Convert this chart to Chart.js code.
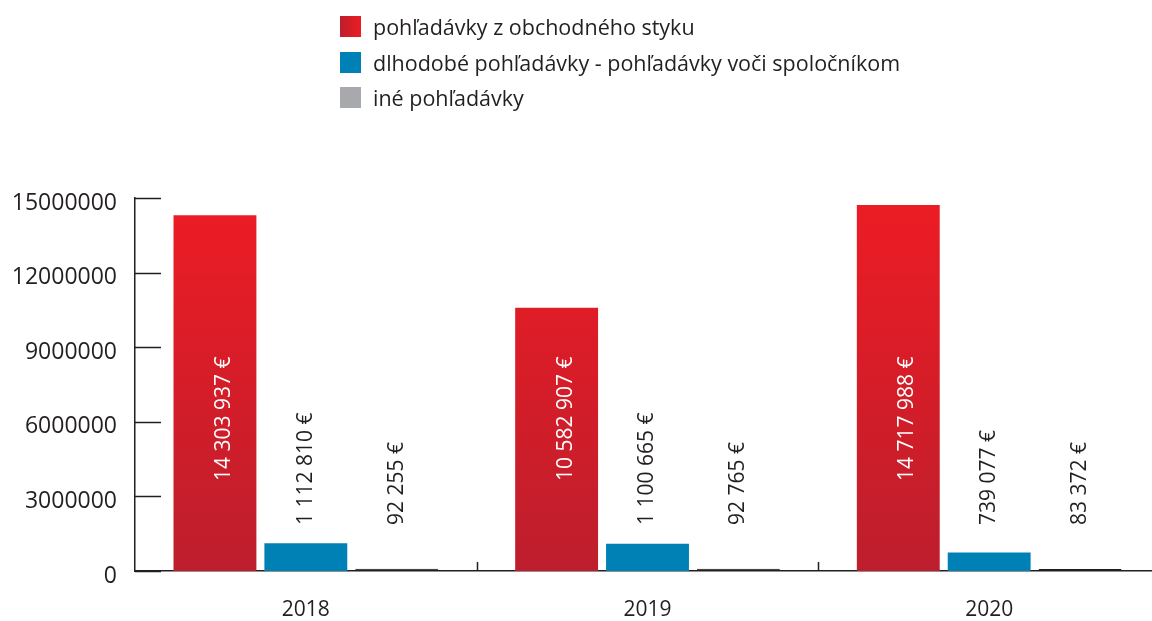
<!DOCTYPE html>
<html><head><meta charset="utf-8">
<script src="https://cdn.jsdelivr.net/npm/chart.js@4/dist/chart.umd.min.js"></script>
<style>
html,body{margin:0;padding:0;background:#fff;overflow:hidden;width:1152px;height:621px;}
#wrap{position:relative;width:1160px;height:621px;}
#legend{position:absolute;left:340px;top:9px;font-family:"Open Sans",sans-serif;font-size:21.5px;color:#231f20;}
.item{display:flex;align-items:center;height:35.5px;white-space:nowrap;}
.sw{width:21px;height:21px;margin-right:12px;flex:none;}
</style></head>
<body><div id="wrap"><canvas id="c" width="1160" height="621"></canvas><div id="legend"></div></div>
<script>
const categories = ['2018', '2019', '2020'];
const seriesNames = ['pohľadávky z obchodného styku', 'dlhodobé pohľadávky - pohľadávky voči spoločníkom', 'iné pohľadávky'];
const tradeReceivables = [14303937, 10582907, 14717988];
const longTermReceivables = [1112810, 1100665, 739077];
const otherReceivables = [92255, 92765, 83372];
const yTickValues = [0, 3000000, 6000000, 9000000, 12000000, 15000000];

const TXT = '#231f20';
const FONT = '"Open Sans", sans-serif';

function fmt(v){ return String(v).replace(/\B(?=(\d{3})+(?!\d))/g, ' ') + ' €'; }

function redGradient(ctx){
  const ch = ctx.chart; const a = ch.chartArea;
  if(!a) return '#d41f2a';
  const g = ch.ctx.createLinearGradient(0, a.top, 0, a.bottom);
  g.addColorStop(0, '#ed1c24'); g.addColorStop(1, '#bd1e2d');
  return g;
}

// legend (HTML, real text)
const legendColors = ['linear-gradient(to right,#bd1e2d,#ed1c24)', '#0081b5', '#a7a9ac'];
const lg = document.getElementById('legend');
seriesNames.forEach((n,i)=>{
  const it = document.createElement('div'); it.className='item';
  const sw = document.createElement('div'); sw.className='sw'; sw.style.background = legendColors[i];
  const tx = document.createElement('span'); tx.textContent = n;
  it.appendChild(sw); it.appendChild(tx); lg.appendChild(it);
});

const decor = {
  id:'decor',
  afterDraw(chart){
    const c = chart.ctx, a = chart.chartArea, ys = chart.scales.y, xs = chart.scales.x;
    c.save();
    c.strokeStyle = '#231f20'; c.lineWidth = 1.5;
    // inward y tick marks
    yTickValues.forEach(v=>{
      const y = Math.round(ys.getPixelForValue(v)) + 0.5;
      c.beginPath(); c.moveTo(a.left, y); c.lineTo(a.left + 26, y); c.stroke();
    });
    // category boundary marks
    for(let i=0;i<categories.length-1;i++){
      const x = Math.round((xs.getPixelForValue(i) + xs.getPixelForValue(i+1))/2) + 0.5;
      c.beginPath(); c.moveTo(x, a.bottom); c.lineTo(x, a.bottom - 9); c.stroke();
    }
    // value labels
    c.font = '21px ' + FONT;
    c.textAlign = 'left'; c.textBaseline = 'middle';
    chart.data.datasets.forEach((ds, di)=>{
      const meta = chart.getDatasetMeta(di);
      meta.data.forEach((bar, i)=>{
        const x = bar.x + (di===0 ? 9 : 0);
        const y = a.bottom - (di===0 ? 90 : 46);
        c.save(); c.translate(x, y); c.rotate(-Math.PI/2);
        c.fillStyle = di===0 ? '#ffffff' : TXT;
        c.fillText(fmt(ds.data[i]), 0, 0);
        c.restore();
      });
    });
    c.restore();
  }
};

new Chart(document.getElementById('c'), {
  type:'bar',
  data:{
    labels: categories,
    datasets:[
      {label: seriesNames[0], data: tradeReceivables, backgroundColor: redGradient},
      {label: seriesNames[1], data: longTermReceivables, backgroundColor: '#0081b5'},
      {label: seriesNames[2], data: otherReceivables, backgroundColor: '#231f20', borderColor:'#231f20', borderWidth:{top:2}, borderSkipped:'bottom'}
    ]
  },
  options:{
    responsive:false, animation:false, devicePixelRatio:1,
    layout:{padding:{top:198, right:0, left:0, bottom:0}},
    datasets:{bar:{categoryPercentage:0.798, barPercentage:0.912}},
    plugins:{legend:{display:false}, tooltip:{enabled:false}, title:{display:false}},
    scales:{
      x:{
        grid:{display:false, drawTicks:false},
        border:{display:true, color:'#231f20', width:1.5},
        ticks:{color:TXT, font:{family:FONT, size:21}, padding:26},
        afterFit(s){ s.height = 50; }
      },
      y:{
        min:0, max:15000000,
        afterBuildTicks(s){ s.ticks = yTickValues.map(v=>({value:v})); },
        grid:{display:false, drawTicks:false},
        border:{display:true, color:'#231f20', width:1.5},
        ticks:{color:TXT, font:{family:FONT, size:23}, padding:18, labelOffset:5, callback:v=>String(v)},
        afterFit(s){ s.width = 135; }
      }
    }
  },
  plugins:[decor]
});
</script>
</body></html>
